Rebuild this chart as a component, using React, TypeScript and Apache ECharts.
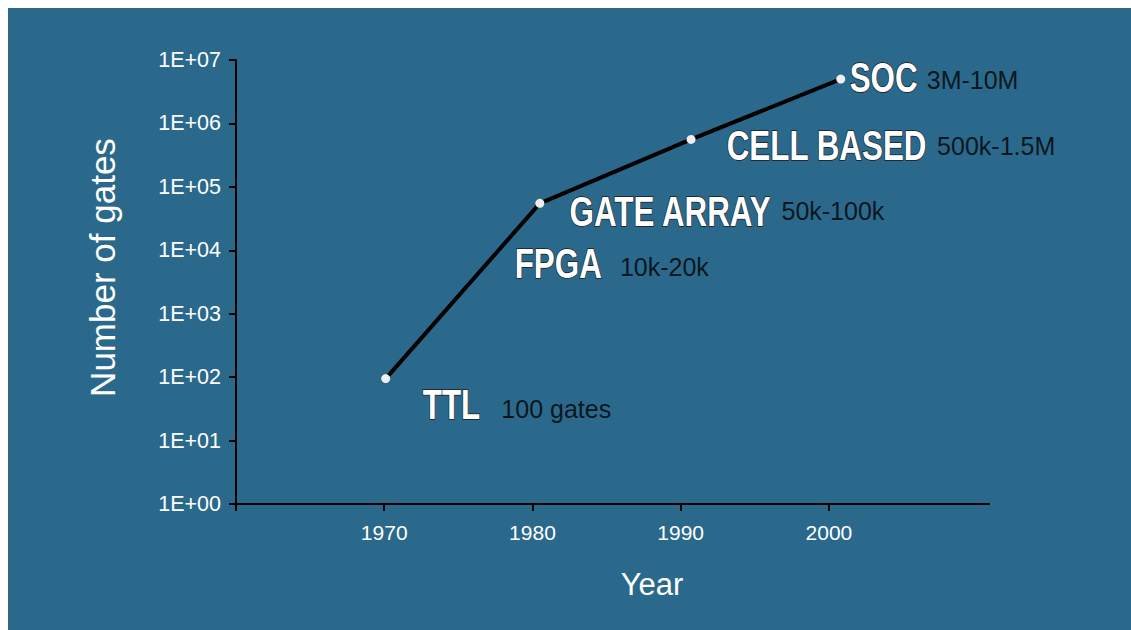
import React, { useEffect, useRef } from "react";
import * as echarts from "echarts";

// Main curve: technology introduction year vs. number of gates
const years = [1970.1, 1980.5, 1990.7, 2000.8];
const gates = [95, 55000, 560000, 5000000];

// Annotations
const techNames = ["TTL", "FPGA", "GATE ARRAY", "CELL BASED", "SOC"];
const nameYears = [1972.6, 1978.8, 1982.5, 1993.1, 2001.4];
const nameGates = [38, 6300, 41800, 458000, 5400000];

const gateRanges = ["100 gates", "10k-20k", "50k-100k", "500k-1.5M", "3M-10M"];
const rangeYears = [1977.9, 1985.9, 1996.8, 2007.3, 2006.6];
const rangeGates = [32, 5480, 41800, 434000, 4840000];

// Axis ticks
const xTickYears = [1960, 1970, 1980, 1990, 2000];
const xLabelYears = [1970, 1980, 1990, 2000];
const yTickValues = [1, 10, 100, 1000, 10000, 100000, 1000000, 10000000];

const SANS = "'Liberation Sans', Arial, Helvetica, sans-serif";

export default function App() {
  const ref = useRef<HTMLDivElement>(null);
  useEffect(() => {
    if (!ref.current) return;
    const chart = echarts.init(ref.current, null, { renderer: "svg" });
    chart.setOption({
      animation: false,
      backgroundColor: "#2a698b",
      grid: { left: 228, top: 52, width: 753, height: 444, containLabel: false },
      xAxis: {
        type: "value",
        min: 1960,
        max: 2010.8,
        interval: 10,
        axisLine: { show: true, lineStyle: { color: "#000", width: 2 } },
        axisTick: { show: true, length: 7, lineStyle: { color: "#000", width: 2 }, customValues: xTickYears },
        axisLabel: {
          color: "#fff",
          fontSize: 21,
          fontFamily: SANS,
          margin: 18,
          customValues: xLabelYears,
          formatter: (v: number) => String(Math.round(v)),
        },
        splitLine: { show: false },
      },
      yAxis: {
        type: "log",
        logBase: 10,
        min: 1,
        max: 10000000,
        interval: 1,
        axisLine: { show: true, lineStyle: { color: "#000", width: 2 } },
        axisTick: { show: true, length: 7, lineStyle: { color: "#000", width: 2 }, customValues: yTickValues },
        axisLabel: {
          color: "#fff",
          fontSize: 21.5,
          fontFamily: SANS,
          margin: 15,
          customValues: yTickValues,
          formatter: (v: number) => "1E+" + String(Math.round(Math.log10(v))).padStart(2, "0"),
        },
        splitLine: { show: false },
      },
      graphic: [
        {
          type: "text",
          x: 94,
          y: 259.5,
          rotation: Math.PI / 2,
          style: {
            text: "Number of gates",
            fill: "#fff",
            font: `35px ${SANS}`,
            align: "center",
            verticalAlign: "middle",
          },
        },
        {
          type: "text",
          x: 644,
          y: 576,
          style: {
            text: "Year",
            fill: "#fff",
            font: `31px ${SANS}`,
            align: "center",
            verticalAlign: "middle",
          },
        },
      ],
      series: [
        {
          type: "line",
          data: years.map((y, i) => [y, gates[i]]),
          lineStyle: { color: "#000", width: 4 },
          symbol: "circle",
          symbolSize: 9,
          showAllSymbol: true,
          itemStyle: { color: "#eeeeee", borderWidth: 0 },
          z: 3,
        },
        {
          type: "custom",
          data: nameYears.map((y, i) => [y, nameGates[i]]),
          silent: true,
          renderItem: (params: any, api: any) => {
            const p = api.coord([api.value(0), api.value(1)]);
            return {
              type: "text",
              x: p[0],
              y: p[1],
              scaleX: 0.73,
              style: {
                text: techNames[params.dataIndex],
                fill: "#ffffff",
                stroke: "#1a1a1a",
                lineWidth: 1.5,
                font: `bold 43px ${SANS}`,
                align: "left",
                verticalAlign: "middle",
              },
            };
          },
        },
        {
          type: "scatter",
          data: rangeYears.map((y, i) => [y, rangeGates[i], gateRanges[i]]),
          symbolSize: 0,
          silent: true,
          label: {
            show: true,
            position: "right",
            distance: 0,
            formatter: (p: any) => p.value[2],
            color: "#000",
            fontFamily: SANS,
            fontSize: 25,
          },
        },
      ],
    });
    return () => chart.dispose();
  }, []);
  return (
    <div
      ref={ref}
      style={{ position: "absolute", left: 8, top: 8, width: 1123, height: 622 }}
    />
  );
}
